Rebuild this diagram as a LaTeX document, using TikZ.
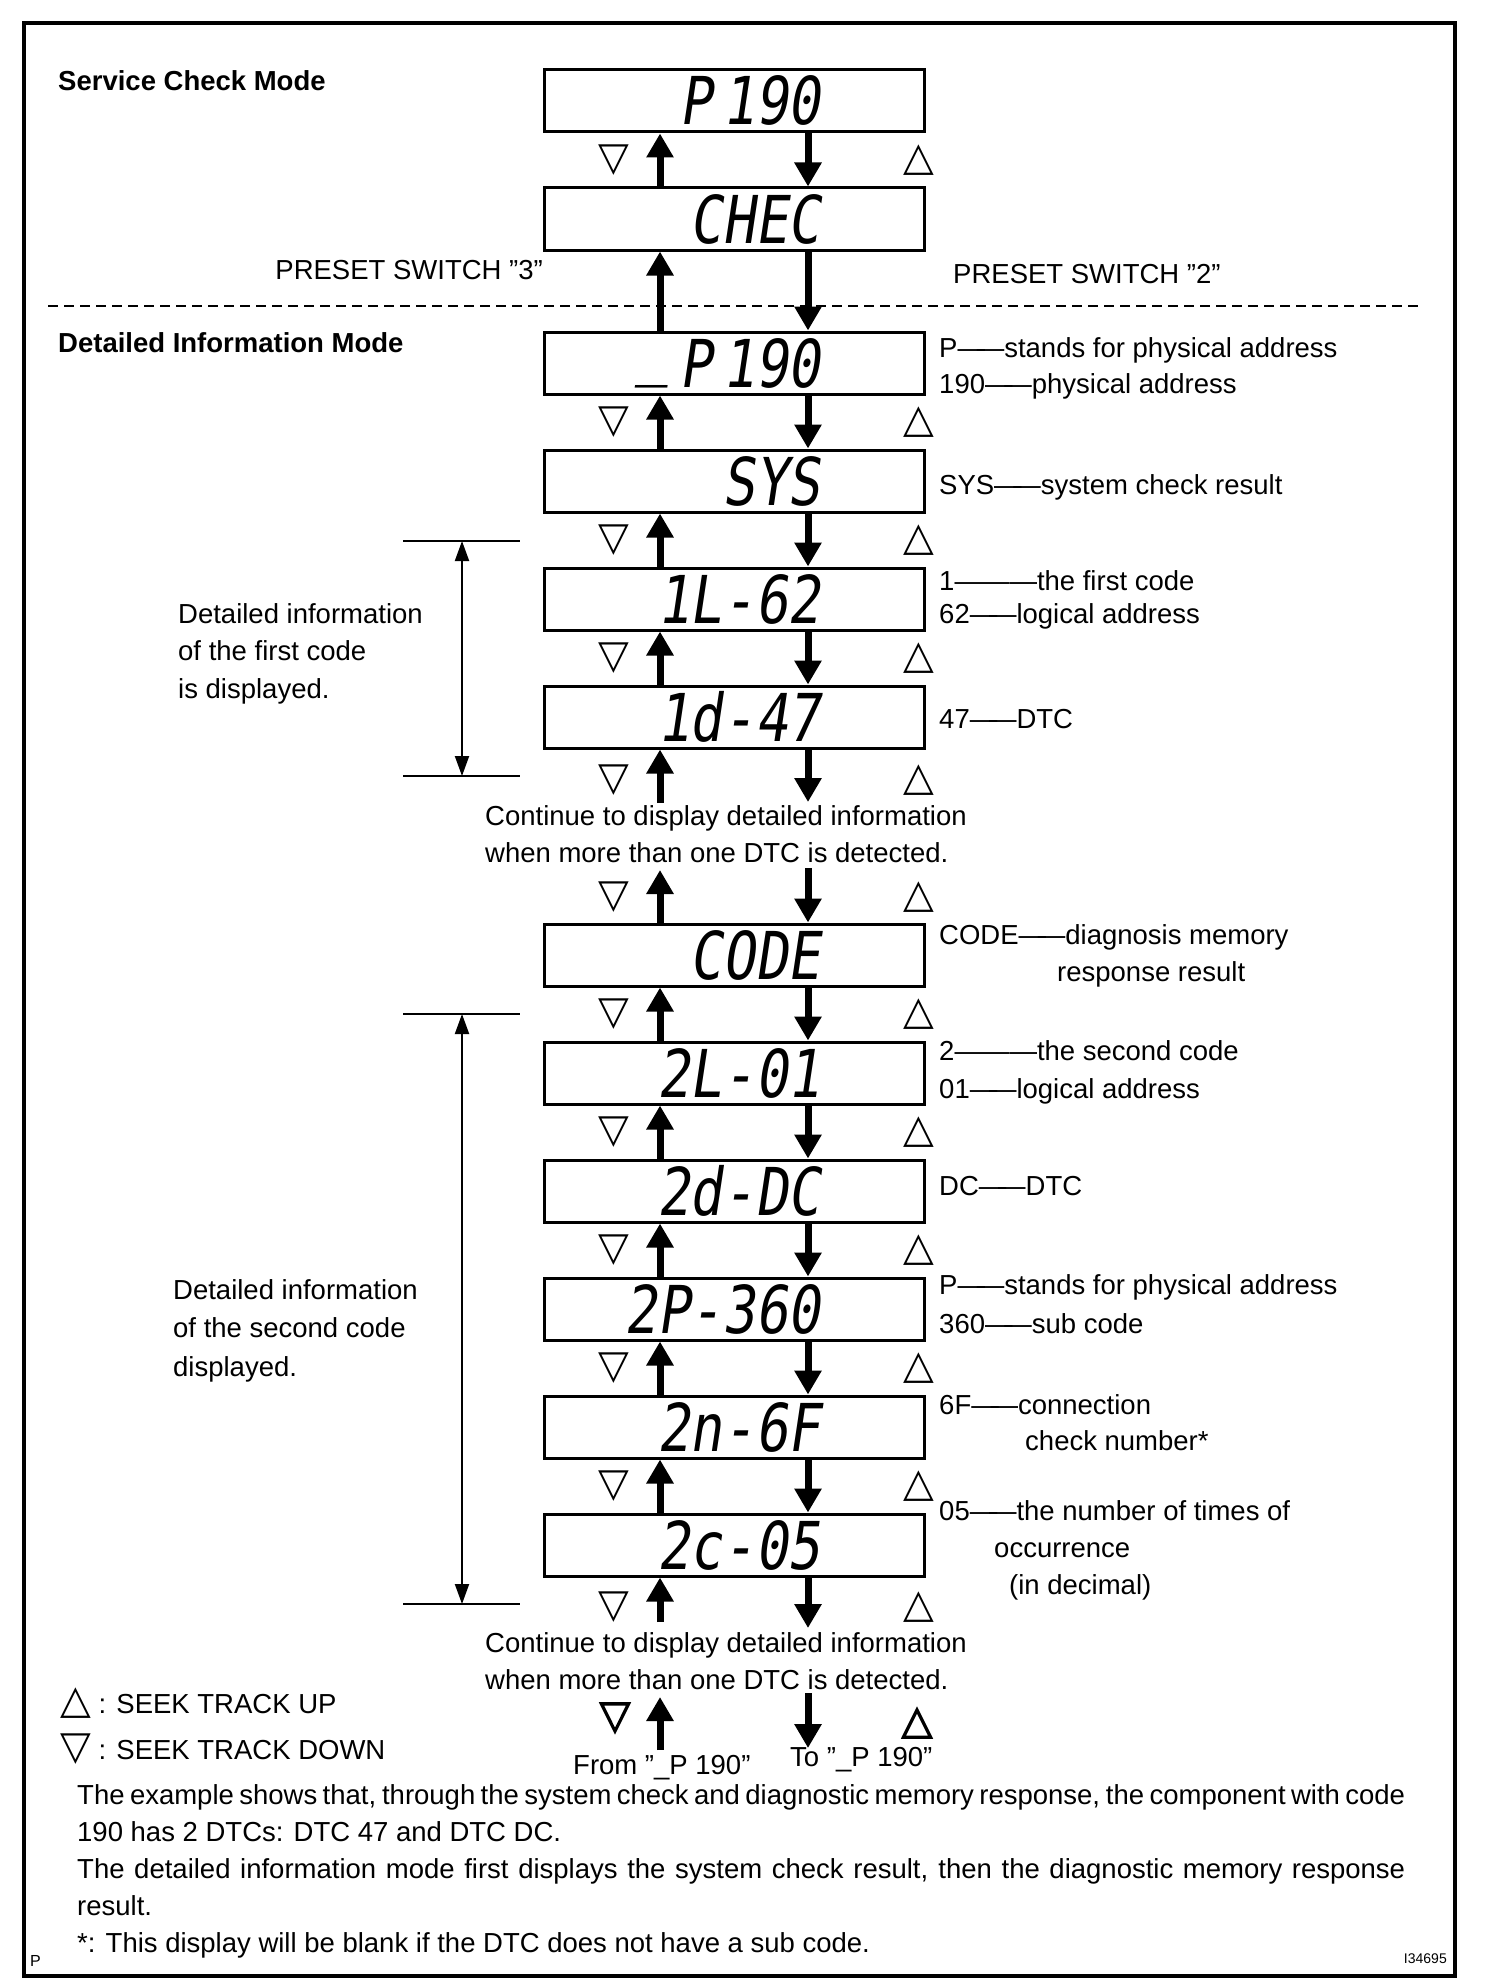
\documentclass[tikz,border=0pt]{standalone}
\usepackage{fontspec}
\setmainfont{Liberation Sans}
\newfontfamily\symfont{DejaVu Sans}
\newfontfamily\symboldfont[FakeBold=3]{DejaVu Sans}
\newfontfamily\lcdfont[FakeStretch=0.82,FakeSlant=0.15]{DejaVu Sans Mono}
\usetikzlibrary{arrows.meta,calc,positioning}
\newcommand{\dsh}{—\kern-0.3em—}

\begin{document}
\begin{tikzpicture}[x=1pt,y=-1pt,
	lcd/.style={draw,line width=3pt,minimum width=380pt,minimum height=62pt,inner sep=0pt},
	lcdtxt/.style={font=\fontsize{66}{66}\lcdfont,inner sep=0pt,anchor=base east},
	note/.style={font=\fontsize{27.5}{37}\selectfont,inner sep=0pt,anchor=base west},
	modehead/.style={note,font=\fontsize{27.5}{37}\selectfont\bfseries},
	flow/.style={line width=7pt,-{Triangle[length=24pt,width=26pt]}},
	dimline/.style={line width=2pt,{Triangle[length=20pt,width=14pt]}-{Triangle[length=20pt,width=14pt]}},
	seekup/.style={font=\fontsize{40}{40}\symfont,inner sep=0pt},
	seekdn/.style={seekup},
	seekbold/.style={font=\fontsize{40}{40}\symboldfont,inner sep=0pt}]
		\useasboundingbox (0,0) rectangle (1504,1988);
		\draw[line width=4pt] (24,23) rectangle (1455,1976);
		\draw[line width=2.5pt,dash pattern=on 10pt off 6pt] (48,306) -- (1418,306);
		% displays
		\foreach \n/\y/\t in {1/101/{P\hspace{10pt}190},2/219/CHEC,3/363/{\raisebox{0.22em}{\_}\kern10pt P\hspace{10pt}190},
			4/481/SYS,5/599/1L-62,6/717/1d-47,7/955/CODE,8/1073/2L-01,9/1191/2d-DC,
			10/1309/2P-360,11/1427/2n-6F,12/1545/2c-05}
		{
			\node[lcd] (b\n) at (734.5,\y) {};
			\node[lcdtxt] (t\n) at ([xshift=86pt,yshift=-24pt]b\n.center) {\t};
		}
		% arrows between displays
		\foreach \a/\b in {1/2,2/3,3/4,4/5,5/6,7/8,8/9,9/10,10/11,11/12}
		{
			\draw[flow] ([xshift=-74.5pt]b\b.north) -- ([xshift=-74.5pt]b\a.south);
			\draw[flow] ([xshift=73.5pt]b\a.south) -- ([xshift=73.5pt]b\b.north);
		}
		\foreach \a/\b in {1/2,3/4,4/5,5/6,7/8,8/9,9/10,10/11,11/12}
		{
			\node[seekdn] (dn\a) at ($(b\a.south)!0.5!(b\b.north)+(-120.5,0)$) {▽};
			\node[seekup] (up\a) at ($(b\a.south)!0.5!(b\b.north)+(184.5,0)$) {△};
		}
		% open ends
		\coordinate (g1u) at (660,803);
		\coordinate (g1d) at (808,802);
		\coordinate (g2u) at (660,870);
		\coordinate (g2d) at (808,868);
		\coordinate (g3u) at (660,1622);
		\coordinate (g3d) at (808,1628);
		\coordinate (g4ua) at (660,1750);
		\coordinate (g4ub) at (660,1697);
		\coordinate (g4da) at (808,1693);
		\coordinate (g4db) at (808,1748);
		\draw[flow] (g1u) -- ([xshift=-74.5pt]b6.south);
		\draw[flow] ([xshift=73.5pt]b6.south) -- (g1d);
		\draw[flow] ([xshift=-74.5pt]b7.north) -- (g2u);
		\draw[flow] (g2d) -- ([xshift=73.5pt]b7.north);
		\draw[flow] (g3u) -- ([xshift=-74.5pt]b12.south);
		\draw[flow] ([xshift=73.5pt]b12.south) -- (g3d);
		\draw[flow] (g4ua) -- (g4ub);
		\draw[flow] (g4da) -- (g4db);
		\node[seekdn] (dn6) at (614,780) {▽};
		\node[seekup] (up6) at (919,780) {△};
		\node[seekdn] (dn6b) at (614,897) {▽};
		\node[seekup] (up6b) at (919,897) {△};
		\node[seekdn] (dn12) at (614,1607) {▽};
		\node[seekup] (up12) at (919,1607) {△};
		\node[seekbold] (dnend) at (615,1718) {▽};
		\node[seekbold] (upend) at (917,1723) {△};
		% brackets
		\coordinate (k1t) at (462,541);
		\coordinate (k1b) at (462,776);
		\coordinate (k2t) at (462,1014);
		\coordinate (k2b) at (462,1604);
		\foreach \k in {k1t,k1b,k2t,k2b}
		\draw[line width=2pt] ([xshift=-59pt]\k) -- ([xshift=58pt]\k);
		\draw[dimline] (k1t) -- (k1b);
		\draw[dimline] (k2t) -- (k2b);
		% headings
		\node[modehead] (scm) at (58,91) {Service Check Mode};
		\node[modehead] (dim) at (58,352) {Detailed Information Mode};
		\node[note,anchor=base east] (ps3) at (543,279) {PRESET SWITCH "3”};
		\node[note] (ps2) at (953,283) {PRESET SWITCH "2”};
		% right notes
		\foreach \x/\y/\t [count=\i] in {939/357/P\dsh stands for physical address,939/393/190\dsh physical address,
			939/494/SYS\dsh system check result,939/590/1———the first code,939/623/62\dsh logical address,
			939/728/47\dsh DTC,939/944/CODE\dsh diagnosis memory,1057/981/response result,
			939/1060/2———the second code,939/1098/01\dsh logical address,939/1195/DC\dsh DTC,
			939/1294/P\dsh stands for physical address,939/1333/360\dsh sub code,939/1414/6F\dsh connection,
			1025/1450/check number*,939/1520/05\dsh the number of times of,994/1557/occurrence,1009/1594/(in decimal)}
		\node[note] (rn\i) at (\x,\y) {\t};
		% left notes
		\foreach \x/\y/\t [count=\i] in {178/623/Detailed information,178/660/of the first code,178/698/is displayed.,
			173/1299/Detailed information,173/1337/of the second code,173/1376/displayed.}
		\node[note] (ln\i) at (\x,\y) {\t};
		\node[note] (ca1) at (485,825) {Continue to display detailed information};
		\node[note] (ca2) at (485,862) {when more than one DTC is detected.};
		\node[note] (cb1) at (485,1652) {Continue to display detailed information};
		\node[note] (cb2) at (485,1689) {when more than one DTC is detected.};
		% legend
		\node[note] (leg1) at (60,1713) {{\fontsize{40}{40}\symfont △} : SEEK TRACK UP};
		\node[note] (leg2) at (60,1759) {{\fontsize{40}{40}\symfont ▽} : SEEK TRACK DOWN};
		\node[note] (from) at (573,1774) {From "\_P 190”};
		\node[note] (to) at (790,1766) {To "\_P 190”};
		% remarks
		\node[note] (rem0) at (77,1804) {\makebox[1328pt][s]{The example shows that, through the system check and diagnostic memory response, the component with code}};
		\node[note] (rem1) at (77,1841) {190 has 2 DTCs: DTC 47 and DTC DC.};
		\node[note] (rem2) at (77,1878) {\makebox[1328pt][s]{The detailed information mode first displays the system check result, then the diagnostic memory response}};
		\node[note] (rem3) at (77,1915) {result.};
		\node[note] (rem4) at (77,1952) {*: This display will be blank if the DTC does not have a sub code.};
		\node[note,font=\fontsize{16}{16}\selectfont] (pmark) at (30,1966) {P};
		\node[note,anchor=base east,font=\fontsize{14}{14}\selectfont] (fig) at (1447,1963) {I34695};
\end{tikzpicture}
\end{document}
